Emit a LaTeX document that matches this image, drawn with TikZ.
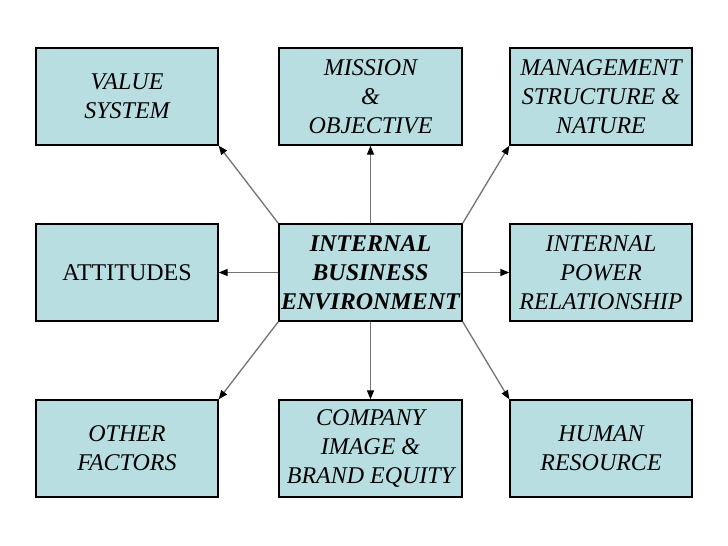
\documentclass[tikz,border=0pt]{standalone}
\usepackage{fontspec}
\setmainfont{Liberation Serif}
\usetikzlibrary{arrows.meta}
\definecolor{boxfill}{RGB}{185,222,226}
\definecolor{linegray}{RGB}{115,115,115}
\begin{document}
\begin{tikzpicture}[x=1pt,y=-1pt,
  box/.style={draw=black, line width=1.3pt, fill=boxfill, minimum width=182pt,
    minimum height=97pt, inner sep=0pt, align=center,
    font=\fontsize{24}{29}\selectfont\itshape},
  conn/.style={draw=linegray, line width=1.3pt,
    -{Triangle[length=9pt,width=7pt,black]}}]
\useasboundingbox (0,0) rectangle (728,546);
\node[box] (vs)  at (127,96.5) {VALUE\\SYSTEM};
\node[box, minimum width=183pt] (mo)  at (370.5,96.5) {MISSION\\\&\\OBJECTIVE};
\node[box] (ms)  at (601,96.5) {MANAGEMENT\\STRUCTURE \&\\NATURE};
\node[box, font=\fontsize{24}{29}\selectfont] (at)  at (127,272.5) {ATTITUDES};
\node[box, minimum width=183pt, font=\fontsize{24}{29}\selectfont\bfseries\itshape] (c) at (370.5,272.5) {INTERNAL\\BUSINESS\\ENVIRONMENT};
\node[box] (ip)  at (601,272.5) {INTERNAL\\POWER\\RELATIONSHIP};
\node[box] (of)  at (127,448.5) {OTHER\\FACTORS};
\node[box, minimum width=183pt] (ci)  at (370.5,448.5) {COMPANY\\IMAGE \&\\BRAND EQUITY};
\node[box] (hr)  at (601,448.5) {HUMAN\\RESOURCE};
\draw[conn] (c.north west) -- (vs.south east);
\draw[conn] (c.north) -- (mo.south);
\draw[conn] (c.north east) -- (ms.south west);
\draw[conn] (c.west) -- (at.east);
\draw[conn] (c.east) -- (ip.west);
\draw[conn] (c.south west) -- (of.north east);
\draw[conn] (c.south) -- (ci.north);
\draw[conn] (c.south east) -- (hr.north west);
\end{tikzpicture}
\end{document}
